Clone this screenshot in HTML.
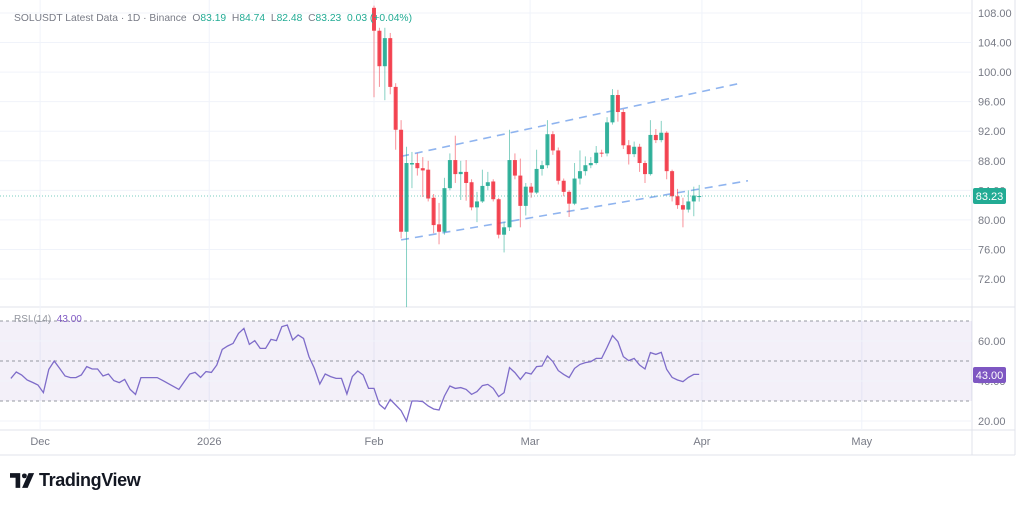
<!DOCTYPE html>
<html><head><meta charset="utf-8">
<style>
body{margin:0;background:#fff;font-family:"Liberation Sans",sans-serif;}
#wrap{position:relative;width:1024px;height:505px;overflow:hidden;}
svg text{font-family:"Liberation Sans",sans-serif;}
</style></head>
<body>
<div id="wrap">
<svg id="chart" width="1024" height="505"></svg>
</div>
<script>
const opens=[108.7,105.6,100.8,104.6,98,92.2,78.4,87.5,87.7,87.0,86.8,83,79.4,78.4,84.3,88.1,86.2,86.5,85.1,81.7,82.5,84.6,85.2,82.8,78,79,88.1,86,81.9,84.5,83.7,86.9,87.4,91.6,89.4,85.3,83.8,82.2,85.6,86.6,87.4,87.7,89.1,89,93.2,96.9,94.6,90.1,88.9,89.9,87.7,86.2,91.5,90.8,91.8,86.6,83.2,82,81.4,82.5,83.19];
const closes=[105.6,100.8,104.6,98,92.2,78.4,87.7,87.7,87.0,86.7,82.9,79.3,78.4,84.3,88.1,86.2,86.5,85,81.7,82.5,84.6,85.1,82.8,78,79,88.1,86,81.9,84.5,83.7,86.9,87.4,91.6,89.4,85.3,83.8,82.2,85.6,86.6,87.4,87.7,89.1,89.0,93.2,96.9,94.6,90.1,88.9,89.9,87.7,86.2,91.5,90.8,91.8,86.6,83.2,82,81.4,82.5,83.3,83.23];
const highs=[109,106,106,105.3,98.5,93.5,89.9,89.2,89,88.5,88,83.5,82.3,85.7,89,91.4,88,88.1,85.5,83.8,86.8,86.5,85.5,83,79.7,92.2,89,88.3,85,85,89.5,88,93.5,92,89.8,85.6,84,87.7,89.4,88.6,88.5,90,89.5,93.9,97.7,97.6,95,90.8,90.6,90.3,88,93.5,92.3,93.4,92,86.8,84.2,83,84,84.5,84.74];
const lows=[96.6,98,96.2,97,89.5,77.5,68.2,84.3,86,83.1,82.5,78.2,76.7,78,84,85,82.7,82.6,81.3,79.7,82.3,84,82.5,77.5,75.6,78.5,85.5,79,80.6,83,83.5,86,87,88.8,84.8,83.2,80.4,82,84.8,86,87,87.5,88.5,88.6,92.9,93.3,89.6,87.5,88.5,86.5,85,86,90.4,90.5,85.5,82.5,81.5,79,81,80.5,82.48];
const rsiValues=[41.3,44.5,43,40.5,39.3,38,34.2,45.8,50,46.3,42.5,41.7,41.7,43,47.2,46,46,42.5,43.5,40.2,39.2,40.8,35.8,33.3,41.7,41.7,41.7,41.7,40.3,38.8,37.3,35.8,39.7,43.5,44.3,41.8,44.7,44.3,48,55.8,57.5,58.8,63.8,66.3,58.3,60.2,56.3,56.3,60.8,60.2,67.2,68,60.5,63,61.3,52.2,46.3,38.5,43.5,42.2,41.3,41.3,33.5,42.2,
45,43,36.3,36.3,28.3,26,30.8,28,25.2,20,30,30,29.7,27.5,26,25.5,32.5,37.5,36.3,36.7,35.8,33.3,34.7,37.7,38.3,36.3,32.2,34.2,46.7,44.2,40.8,44.2,43.5,47.2,47.5,52.5,49.7,45.2,43.3,41.7,46.3,48.3,49.2,49.7,51.3,51.3,56.8,62.7,59.7,52.2,50.2,51.3,48,46,54.2,53.3,54.3,45.8,41.8,40.5,39.7,41.8,43.3,43.3];
const priceTicks=[108,104,100,96,92,88,84,80,76,72];
const rsiTicks=[60,40,20];
const rsiBands=[70,50,30];
const timeLabels=["Dec","2026","Feb","Mar","Apr","May"];
const timeLabelDays=[-61.6,-30.4,0,28.8,60.5,90];
const channelUpper=[[5,88.6],[67,98.4]];
const channelLower=[[5,77.3],[69,85.3]];

const NS="http://www.w3.org/2000/svg";
const svg=document.getElementById('chart');
const X=d=>374+d*5.42;
const Y=p=>13+(108-p)*7.39;
const RY=v=>321+(70-v)*2;
function mk(tag,attrs,parent){const e=document.createElementNS(NS,tag);for(const k in attrs)e.setAttribute(k,attrs[k]);(parent||svg).appendChild(e);return e;}

const fr=mk('g',{});


mk('line',{x1:0,y1:307,x2:1015,y2:307,stroke:'#e0e3eb'},fr);
mk('line',{x1:972,y1:0,x2:972,y2:455,stroke:'#e0e3eb'},fr);
mk('line',{x1:1015,y1:0,x2:1015,y2:455,stroke:'#e0e3eb'},fr);
mk('line',{x1:0,y1:430,x2:1015,y2:430,stroke:'#e0e3eb'},fr);
mk('line',{x1:0,y1:455,x2:1015,y2:455,stroke:'#e0e3eb'},fr);

timeLabels.forEach((t,i)=>{
  const x=X(timeLabelDays[i]);
  mk('line',{x1:x,y1:0,x2:x,y2:430,stroke:'#f0f3fa'});
  const tx=mk('text',{x:x,y:445,'font-size':11,fill:'#787b86','text-anchor':'middle'});
  tx.textContent=t;
  
  
});

priceTicks.forEach(p=>{
  const y=Y(p);
  mk('line',{x1:0,y1:y,x2:972,y2:y,stroke:'#f0f3fa'});
  const t=mk('text',{x:978,y:y+4,'font-size':11,fill:'#787b86'});
  t.textContent=p.toFixed(2);
  
  
});

const band=mk('rect',{x:0,y:RY(70),width:972,height:RY(30)-RY(70),fill:'#7e57c2','fill-opacity':0.09});


rsiTicks.forEach(v=>{
  const y=RY(v);
  mk('line',{x1:0,y1:y,x2:972,y2:y,stroke:'#f0f3fa'});
  const t=mk('text',{x:978,y:y+4,'font-size':11,fill:'#787b86'});
  t.textContent=v.toFixed(2);
  
  
});
rsiBands.forEach(v=>{
  const l=mk('line',{x1:0,y1:RY(v),x2:972,y2:RY(v),stroke:'#9598a1','stroke-dasharray':'3 3','stroke-width':1});
  
  
});

[channelUpper,channelLower].forEach((c,i)=>{
  const l=mk('line',{x1:X(c[0][0]),y1:Y(c[0][1]),x2:X(c[1][0]),y2:Y(c[1][1]),stroke:'#8fb4ef','stroke-width':1.6,'stroke-dasharray':'8 6'});
  
  
});

opens.forEach((o,i)=>{
  const c=closes[i],x=X(i),up=c>=o,col=up?'#22ab94':'#f23645';
  const g=mk('g',{});
  
  
  mk('line',{x1:x,y1:Y(highs[i]),x2:x,y2:Y(lows[i]),stroke:col,'stroke-width':1,'stroke-opacity':0.55},g);
  const top=Y(Math.max(o,c)),bot=Y(Math.min(o,c));
  mk('rect',{x:x-2,y:top,width:4,height:Math.max(1,bot-top),fill:col,'fill-opacity':0.9},g);
});

const last=closes[closes.length-1];
const pl=mk('line',{x1:0,y1:Y(last),x2:972,y2:Y(last),stroke:'#22ab94','stroke-dasharray':'1 2','stroke-opacity':0.6});


const pb=mk('rect',{x:973,y:Y(last)-8,width:33,height:16,fill:'#22ab94',rx:2});


const pt=mk('text',{x:989.5,y:Y(last)+4,'font-size':11,fill:'#fff','text-anchor':'middle'});
pt.textContent=last.toFixed(2);

const startDay=60-(rsiValues.length-1);
const pts=rsiValues.map((v,i)=>X(startDay+i)+','+RY(v)).join(' ');
const rl=mk('polyline',{points:pts,fill:'none',stroke:'#7e6cc9','stroke-width':1.3});


const rb=mk('rect',{x:973,y:RY(43)-8,width:33,height:16,fill:'#7e57c2',rx:2});


const rt=mk('text',{x:989.5,y:RY(43)+4,'font-size':11,fill:'#fff','text-anchor':'middle'});
rt.textContent='43.00';
</script>
<div style="position:absolute;left:14px;top:13px;font-size:10.3px;color:#787b86;white-space:nowrap;">SOLUSDT Latest Data · 1D · Binance&nbsp; O<span style="color:#22ab94">83.19</span>&nbsp; H<span style="color:#22ab94">84.74</span>&nbsp; L<span style="color:#22ab94">82.48</span>&nbsp; C<span style="color:#22ab94">83.23</span>&nbsp; <span style="color:#22ab94">0.03 (+0.04%)</span></div>
<div style="position:absolute;left:14px;top:314px;font-size:10px;color:#9598a1;">RSI (14)&nbsp; <span style="color:#7e57c2">43.00</span></div>
<div style="position:absolute;left:10px;top:470px;display:flex;align-items:center;gap:3px;">
<svg width="26" height="15" viewBox="0 0 28 16"><path d="M0 0h11v16H6V5H0z" fill="#131722"/><circle cx="15.5" cy="3" r="2.6" fill="#131722"/><path d="M20 0h6l-7 16h-6z" fill="#131722"/></svg>
<span style="font-size:18px;font-weight:bold;color:#131722;letter-spacing:-0.4px">TradingView</span></div>
</body></html>
